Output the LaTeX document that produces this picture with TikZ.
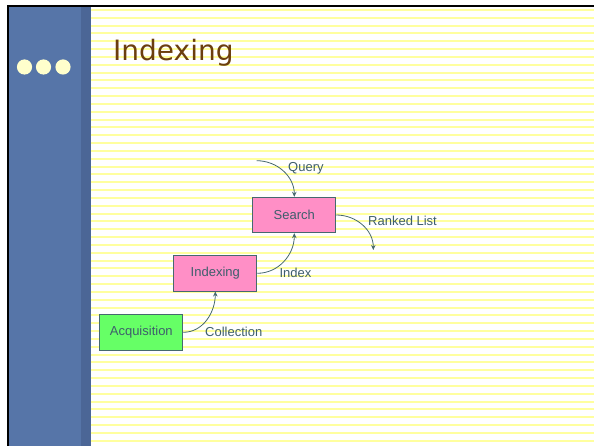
\documentclass[tikz,border=0pt]{standalone}
\usepackage{fontspec}
\setmainfont{Liberation Sans}
\newfontfamily\titlefont{DejaVu Sans}
\usetikzlibrary{arrows.meta}
\definecolor{panelblue}{HTML}{5675A8}
\definecolor{paneldark}{HTML}{4B6696}
\definecolor{stripeyel}{HTML}{FFFF9E}
\definecolor{dotyel}{HTML}{FFFFCC}
\definecolor{titlebrown}{HTML}{6B3E0E}
\definecolor{edgegray}{HTML}{46686E}
\definecolor{labelgray}{HTML}{3E5E6C}
\definecolor{boxpink}{HTML}{FF8FC6}
\definecolor{boxgreen}{HTML}{66FF66}

\begin{document}
\begin{tikzpicture}[x=1pt, y=-1pt,
  stripe/.style={stripeyel, line width=2pt},
  stage/.style={draw=edgegray, line width=0.9pt, fill=boxpink, font=\fontsize{13}{15}\selectfont, text=labelgray, minimum width=83pt, minimum height=35.5pt, inner sep=0pt},
  lbl/.style={anchor=west, font=\fontsize{13}{15}\selectfont, text=labelgray, inner sep=0pt},
  flow/.style={-{Stealth[length=5pt, width=4.5pt]}, edgegray, line width=0.8pt}]
\useasboundingbox (0,0) rectangle (594,446);
% slide background
\fill[white] (0,0) rectangle (594,446);
\foreach \k in {0,...,55}
  \draw[stripe] (91,{10+7.83*\k}) -- (594,{10+7.83*\k});
\fill[panelblue] (8,6) rectangle (81,446);
\fill[paneldark] (81,6) rectangle (91,446);
\draw[black, line width=2.5pt] (8.2,446) -- (8.2,6.2) -- (594,6.2);
\foreach \x in {24.5,43.5,63}
  \fill[dotyel] (\x,67) circle (7.6);
\node[anchor=west, inner sep=0pt, text=titlebrown, font=\titlefont\fontsize{28}{32}\selectfont] (title) at (113,53) {Indexing};
% pipeline
\node[stage, fill=boxgreen] (acq) at (141.3,332.3) {Acquisition};
\node[stage] (idx) at (215.3,273.3) {Indexing};
\node[stage] (srch) at (294.3,215) {Search};
\coordinate (qin) at (256.7,160.7);
\coordinate (rout) at (373.3,250);
\draw[flow] (acq.east) to[out=0, in=-90] (idx.south);
\draw[flow] (idx.east) to[out=0, in=-90] (srch.south);
\draw[flow] (qin) to[out=0, in=90] (srch.north);
\draw[flow] (srch.east) to[out=0, in=90] (rout);
\node[lbl] (lcoll) at (205,332) {Collection};
\node[lbl] (lidx) at (279.3,273) {Index};
\node[lbl] (lqry) at (288,168) {Query};
\node[lbl] (lrank) at (368,221) {Ranked List};
\end{tikzpicture}
\end{document}
